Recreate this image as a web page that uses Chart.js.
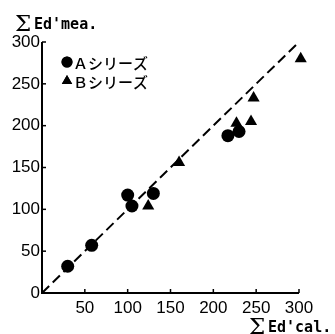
<!DOCTYPE html>
<html>
<head>
<meta charset="utf-8">
<script src="https://cdn.jsdelivr.net/npm/chart.js@4/dist/chart.umd.min.js"></script>
<style>
html,body{margin:0;padding:0;background:#fff;}
#wrap{width:335px;height:334px;position:relative;}
</style>
</head>
<body>
<div id="wrap"><canvas id="c" width="335" height="334"></canvas></div>
<script>
const seriesA_x = [30, 58, 100, 105, 130, 217, 230];
const seriesA_y = [32, 57, 117, 104, 119, 188, 193];
const seriesB_x = [124, 160, 227, 244, 247, 302];
const seriesB_y = [104, 156, 203, 205, 233, 280];
const refLine_x = [0, 300];
const refLine_y = [0, 300];
const tickValues = [0, 50, 100, 150, 200, 250, 300];
const legendLabels = ["Ａシリーズ", "Ｂシリーズ"];
const yTitle = ["Σ", "Ed'mea."];
const xTitle = ["Σ", "Ed'cal."];

const toPts = (xs, ys) => xs.map((x, i) => ({x: x, y: ys[i]}));
const tickFont = {family: "'Liberation Sans',Arial,sans-serif", size: 17};

const decor = {
  id: 'decor',
  afterDraw(chart) {
    const ctx = chart.ctx;
    const xs = chart.scales.x, ys = chart.scales.y;
    const ca = chart.chartArea;
    ctx.save();
    ctx.strokeStyle = '#000';
    ctx.lineWidth = 2;
    ctx.beginPath();
    ctx.moveTo(ca.left, ys.getPixelForValue(300));
    ctx.lineTo(ca.left, ca.bottom);
    ctx.lineTo(xs.getPixelForValue(300), ca.bottom);
    ctx.stroke();
    ctx.lineWidth = 1.5;
    tickValues.forEach(v => {
      if (v === 0) return;
      const px = xs.getPixelForValue(v);
      ctx.beginPath(); ctx.moveTo(px, ca.bottom); ctx.lineTo(px, ca.bottom - 4); ctx.stroke();
      const py = ys.getPixelForValue(v);
      ctx.beginPath(); ctx.moveTo(ca.left, py); ctx.lineTo(ca.left + 4, py); ctx.stroke();
    });
    ctx.fillStyle = '#000';
    const ds = chart.data.datasets;
    const lx = 67;
    const lys = [62, 81];
    [0, 1].forEach(i => {
      Chart.helpers.drawPoint(ctx, {pointStyle: ds[i].pointStyle, radius: i === 0 ? 5.5 : 6, borderWidth: 0, rotation: 0}, lx, lys[i]);
      ctx.fill();
      ctx.font = "500 15px 'Noto Sans CJK JP'";
      ctx.textBaseline = 'middle';
      ctx.textAlign = 'left';
      ctx.fillText(legendLabels[i], lx + 6, lys[i] + 1);
    });
    ctx.textBaseline = 'alphabetic';
    ctx.font = "23px 'DejaVu Serif'";
    ctx.fillText(yTitle[0], 15, 31);
    ctx.font = "bold 15px 'DejaVu Sans Mono'";
    ctx.fillText(yTitle[1], 34, 29);
    ctx.font = "23px 'DejaVu Serif'";
    ctx.fillText(xTitle[0], 249, 334);
    ctx.font = "bold 15px 'DejaVu Sans Mono'";
    ctx.fillText(xTitle[1], 268, 332);
    ctx.restore();
  }
};

new Chart(document.getElementById('c'), {
  type: 'scatter',
  data: {
    datasets: [
      {label: legendLabels[0], data: toPts(seriesA_x, seriesA_y), pointStyle: 'circle', pointRadius: 6.5,
       backgroundColor: '#000', borderColor: '#000', borderWidth: 0, clip: false, order: 1},
      {label: legendLabels[1], data: toPts(seriesB_x, seriesB_y), pointStyle: 'triangle', pointRadius: 7,
       backgroundColor: '#000', borderColor: '#000', borderWidth: 0, clip: false, order: 1},
      {type: 'line', label: 'ref', data: toPts(refLine_x, refLine_y), borderColor: '#000', borderWidth: 2,
       borderDash: [10, 5], pointRadius: 0, fill: false, clip: false, order: 2}
    ]
  },
  options: {
    responsive: false,
    animation: false,
    devicePixelRatio: 1,
    layout: {padding: {top: 42, right: 36, left: 0, bottom: 0}},
    plugins: {legend: {display: false}, tooltip: {enabled: false}},
    scales: {
      x: {
        type: 'linear', min: 0, max: 300,
        afterBuildTicks: s => { s.ticks = tickValues.map(v => ({value: v})); },
        afterFit: s => { s.height = 41; },
        grid: {display: false, drawTicks: false},
        border: {display: false},
        ticks: {color: '#000', font: tickFont, padding: 5, maxRotation: 0,
                callback: v => v === 0 ? '' : String(v)}
      },
      y: {
        type: 'linear', min: 0, max: 300,
        afterBuildTicks: s => { s.ticks = tickValues.map(v => ({value: v})); },
        afterFit: s => { s.width = 42; },
        grid: {display: false, drawTicks: false},
        border: {display: false},
        ticks: {color: '#000', font: tickFont, padding: 2, callback: v => String(v)}
      }
    }
  },
  plugins: [decor]
});
</script>
</body>
</html>
